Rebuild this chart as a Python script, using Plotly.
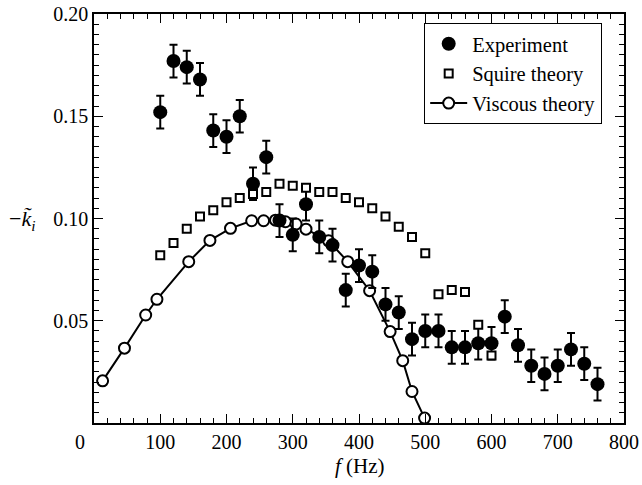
import plotly.graph_objects as go

# ---- data ----
exp_f = [100, 120, 140, 160, 180, 200, 220, 240, 260, 280, 300, 320, 340, 360, 380, 400, 420,
         440, 460, 480, 500, 520, 540, 560, 580, 600, 620, 640, 660, 680, 700, 720, 740, 760]
exp_k = [0.152, 0.177, 0.174, 0.168, 0.143, 0.140, 0.150, 0.117, 0.130, 0.099, 0.092, 0.107,
         0.091, 0.087, 0.065, 0.077, 0.074, 0.058, 0.054, 0.041, 0.045, 0.045, 0.037, 0.037,
         0.039, 0.039, 0.052, 0.038, 0.028, 0.024, 0.028, 0.036, 0.029, 0.019]
exp_err = [0.008, 0.008, 0.008, 0.008, 0.008, 0.008, 0.008, 0.008, 0.008, 0.008, 0.008, 0.008,
           0.008, 0.008, 0.008, 0.008, 0.008, 0.008, 0.008, 0.008, 0.008, 0.008, 0.008, 0.008,
           0.008, 0.008, 0.008, 0.008, 0.008, 0.008, 0.008, 0.008, 0.008, 0.008]

squire_f = [100, 120, 140, 160, 180, 200, 220, 240, 260, 280, 300, 320, 340, 360, 380, 400,
            420, 440, 460, 480, 500, 520, 540, 560, 580, 600]
squire_k = [0.082, 0.088, 0.095, 0.101, 0.104, 0.108, 0.110, 0.112, 0.113, 0.117, 0.116, 0.115,
            0.113, 0.113, 0.110, 0.108, 0.105, 0.101, 0.096, 0.091, 0.083, 0.063, 0.065, 0.064,
            0.048, 0.033]

viscous_f = [13, 46, 78, 95, 143, 175, 206, 238, 256, 274, 289, 305, 320, 354, 383, 416, 447,
             466, 480, 499]
viscous_k = [0.0206, 0.0366, 0.0528, 0.0605, 0.0789, 0.0893, 0.0952, 0.0989, 0.0989, 0.0992,
             0.0984, 0.0973, 0.0948, 0.0891, 0.0789, 0.0647, 0.0447, 0.0305, 0.0154, 0.0024]

x_ticks = [100, 200, 300, 400, 500, 600, 700, 800]
y_ticks = [0.05, 0.10, 0.15, 0.20]
y_tick_text = ["0.05", "0.10", "0.15", "0.20"]

FONT = "'Liberation Serif', 'Times New Roman', Times, serif"

fig = go.Figure()

fig.add_trace(go.Scatter(
    x=viscous_f, y=viscous_k, mode="lines+markers", name="Viscous theory",
    line=dict(color="black", width=2),
    marker=dict(symbol="circle", size=11, color="white", line=dict(color="black", width=2)),
    legendrank=3,
))
fig.add_trace(go.Scatter(
    x=exp_f, y=exp_k, mode="markers", name="Experiment",
    marker=dict(symbol="circle", size=14, color="black"),
    error_y=dict(type="data", array=exp_err, visible=True, color="black", thickness=2, width=4),
    legendrank=1,
))
fig.add_trace(go.Scatter(
    x=squire_f, y=squire_k, mode="markers", name="Squire theory",
    marker=dict(symbol="square", size=8, color="white", line=dict(color="black", width=2)),
    legendrank=2,
))

axis_common = dict(
    showgrid=False, zeroline=False, showline=True, linecolor="black", linewidth=1.5,
    mirror="allticks", ticks="inside", tickcolor="black", tickwidth=1.3, ticklen=9,
    tickfont=dict(family=FONT, size=20, color="black"), automargin=False,
)

fig.update_xaxes(
    range=[0, 800], tickvals=x_ticks, ticktext=[str(v) for v in x_ticks],
    minor=dict(dtick=20, ticks="inside", ticklen=5, tickcolor="black", tickwidth=1.1),
    **axis_common,
)
fig.update_yaxes(
    range=[0, 0.20], tickvals=y_ticks, ticktext=y_tick_text,
    minor=dict(dtick=0.005, ticks="inside", ticklen=5, tickcolor="black", tickwidth=1.1),
    **axis_common,
)

fig.update_layout(
    width=642, height=485,
    margin=dict(l=94, r=18, t=14, b=62),
    plot_bgcolor="white", paper_bgcolor="white",
    font=dict(family=FONT, size=20, color="black"),
    showlegend=True,
    legend=dict(
        x=0.623, y=0.978, xanchor="left", yanchor="top",
        bgcolor="white", bordercolor="black", borderwidth=1,
        font=dict(family=FONT, size=20.5, color="black"),
        tracegroupgap=0, itemwidth=37,
    ),
    annotations=[
        dict(text="0", x=-0.0264, y=-0.0457, xref="paper", yref="paper",
             showarrow=False, xanchor="center", yanchor="middle",
             font=dict(family=FONT, size=20, color="black")),
        dict(text="<i>f</i> (Hz)", x=0.502, y=-0.105, xref="paper", yref="paper",
             showarrow=False, xanchor="center", yanchor="middle",
             font=dict(family=FONT, size=21, color="black")),
        dict(text="\u2212<i>k\u0303</i><sub><i>i</i></sub>", x=-0.136, y=0.496,
             xref="paper", yref="paper", showarrow=False, xanchor="center", yanchor="middle",
             font=dict(family=FONT, size=22, color="black")),
    ],
)

fig.write_html("out.html")
